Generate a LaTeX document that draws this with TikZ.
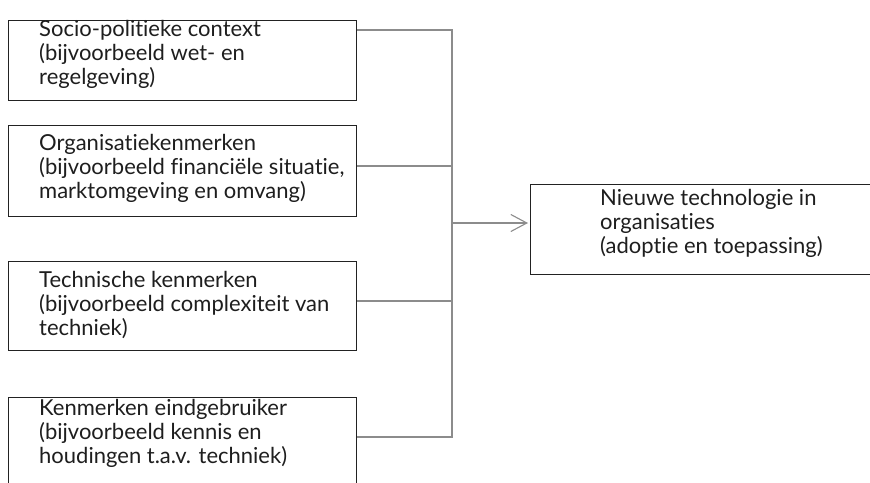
\documentclass[tikz,border=0pt]{standalone}
\usepackage{fontspec}
\setmainfont{Lato}[Ligatures={NoCommon}]
\usetikzlibrary{arrows.meta}
\definecolor{boxline}{HTML}{222222}
\definecolor{connline}{HTML}{8C8C8C}
\definecolor{txtcol}{HTML}{1E1E1E}
\tikzset{
  boxrect/.style={draw=boxline, line width=1.3pt, rectangle, inner sep=0pt, anchor=north west},
  boxtext/.style={anchor=base west, inner sep=0pt, align=left, text=txtcol,
     font=\fontsize{22}{23.8}\selectfont},
  conn/.style={draw=connline, line width=1.2pt},
  arr/.style={conn, -{Straight Barb[length=16pt, width=17pt, line width=1.1pt]}}
}
\begin{document}
\begin{tikzpicture}[x=1pt, y=-1pt]
\useasboundingbox (0,0) rectangle (870,482);
\clip (0,0) rectangle (870,482);
\fill[white] (0,0) rectangle (870,482);
% boxes
\node[boxrect, minimum width=348pt, minimum height=80pt] (b1) at (8,20) {};
\node[boxrect, minimum width=348pt, minimum height=91pt] (b2) at (8,125) {};
\node[boxrect, minimum width=348pt, minimum height=89pt] (b3) at (8,261) {};
\node[boxrect, minimum width=348pt, minimum height=140pt] (b4) at (8,397) {};
\node[boxrect, minimum width=400pt, minimum height=90pt] (t) at (530,184) {};
% texts (anchored at the baseline of the last line)
\node[boxtext] (l1) at (39,84) {Socio-politieke context\\(bijvoorbeeld wet- en\\regelgeving)};
\node[boxtext] (l2) at (39,198) {Organisatiekenmerken\\(bijvoorbeeld financiële situatie,\\marktomgeving en omvang)};
\node[boxtext] (l3) at (39,335) {Technische kenmerken\\(bijvoorbeeld complexiteit van\\techniek)};
\node[boxtext] (l4) at (39,463) {Kenmerken eindgebruiker\\(bijvoorbeeld kennis en\\houdingen t.a.v. techniek)};
\node[boxtext] (lt) at (600,253) {Nieuwe technologie in\\organisaties\\(adoptie en toepassing)};
% junction coordinates
\coordinate (j1) at (452,30);
\coordinate (j2) at (452,166);
\coordinate (j3) at (452,301);
\coordinate (j4) at (452,437);
\coordinate (ja) at (452,223);
% connectors
\draw[conn] (b1.east |- j1) -- (j1) -- (j4) -- (b4.east |- j4);
\draw[conn] (b2.east |- j2) -- (j2);
\draw[conn] (b3.east |- j3) -- (j3);
\draw[arr] (ja) -- ([xshift=-2pt]t.west |- ja);
\end{tikzpicture}
\end{document}
